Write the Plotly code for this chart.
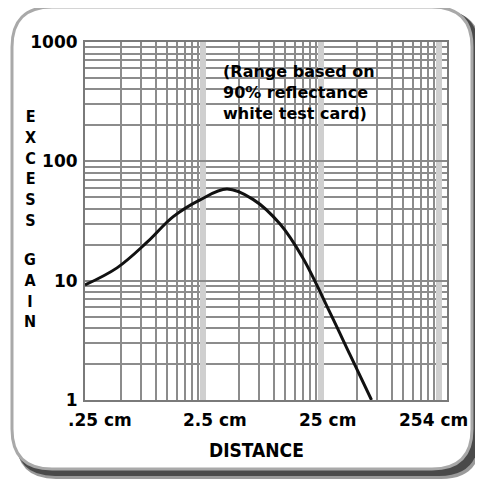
import numpy as np
import plotly.graph_objects as go

# ---- data ----
distance_cm = [0.25, 0.467, 0.84, 1.39, 2.36, 3.99, 6.63, 11.25, 17.6, 29.8, 44.0, 67.0]
excess_gain = [9.2, 12.8, 21.0, 34.2, 47.5, 58.5, 48.0, 29.8, 15.4, 5.4, 2.4, 1.0]

x_tick_vals = [0.25, 2.5, 25, 254]
x_tick_text = [".25 cm", "2.5 cm", "25 cm", "254 cm"]
y_tick_vals = [1, 10, 100, 1000]
y_tick_text = ["1", "10", "100", "1000"]
x_title = "DISTANCE"
y_title_top = "EXCESS"
y_title_bottom = "GAIN"
note_lines = ["(Range based on", "90% reflectance", "white test card)"]

# ---- layout geometry (page pixels; the page body adds an 8 px offset) ----
OFF = 8
WIDTH, HEIGHT = 483 - OFF, 486 - OFF
L, R, T, B = 85, 447, 42, 400          # plot area in page pixels
PW, PH = R - L, B - T

def to_paper(px, py):
    return (px - L) / PW, (B - py) / PH

def rounded_rect(x0, y0, x1, y1, r):
    pts = [
        ("M", [(x0 + r, y0)]),
        ("L", [(x1 - r, y0)]),
        ("Q", [(x1, y0), (x1, y0 + r)]),
        ("L", [(x1, y1 - r)]),
        ("Q", [(x1, y1), (x1 - r, y1)]),
        ("L", [(x0 + r, y1)]),
        ("Q", [(x0, y1), (x0, y1 - r)]),
        ("L", [(x0, y0 + r)]),
        ("Q", [(x0, y0), (x0 + r, y0)]),
    ]
    parts = []
    for cmd, ps in pts:
        coords = " ".join("%.5f,%.5f" % to_paper(*p) for p in ps)
        parts.append(cmd + " " + coords)
    return " ".join(parts) + " Z"

# grid positions (log paper: 1..9 per decade)
x_major = [0.25 * 10 ** d for d in range(4)]
x_minor = [0.25 * k * 10 ** d for d in range(3) for k in range(2, 10)]
y_minor = [k * 10 ** d for d in range(3) for k in range(2, 10)]

bold = "DejaVu Sans"
cond = "DejaVu Sans Condensed, DejaVu Sans"

fig = go.Figure()
fig.add_trace(go.Scatter(
    x=distance_cm, y=excess_gain, mode="lines",
    line=dict(color="#111111", width=3, shape="spline", smoothing=1.0),
    hoverinfo="x+y", showlegend=False,
))

shapes = [
    dict(type="path", xref="paper", yref="paper", layer="below",
         path=rounded_rect(16, 11, 481, 479, 40), fillcolor="#9a9a9a", line=dict(width=0)),
    dict(type="path", xref="paper", yref="paper", layer="below",
         path=rounded_rect(15, 10, 479, 476, 40), fillcolor="#4a4a4a", line=dict(width=0)),
    dict(type="path", xref="paper", yref="paper", layer="below",
         path=rounded_rect(12, 7, 472, 469, 40), fillcolor="white",
         line=dict(color="#a9a9a9", width=3)),
]

annotations = []
x_label_shift = [15, 12, 6, -6]
for v, t, s in zip(x_tick_vals, x_tick_text, x_label_shift):
    annotations.append(dict(
        x=np.log10(v), xref="x", y=-20 / PH, yref="paper", text=t, showarrow=False,
        xanchor="center", yanchor="middle", xshift=s,
        font=dict(family=bold, size=17, color="black", weight="bold")))

annotations.append(dict(
    x=(256 - L) / PW, y=(B - 450) / PH, xref="paper", yref="paper", text=x_title,
    showarrow=False, xanchor="center", yanchor="middle",
    font=dict(family=cond, size=19, color="black", weight="bold")))

for word, cy in [(y_title_top, 168), (y_title_bottom, 290)]:
    annotations.append(dict(
        x=(30 - L) / PW, y=(B - cy) / PH, xref="paper", yref="paper",
        text="<br>".join(word), showarrow=False, xanchor="center", yanchor="middle",
        align="center", font=dict(family=cond, size=16, color="black", weight="bold")))

annotations.append(dict(
    x=(221 - L) / PW, y=(B - 60) / PH, xref="paper", yref="paper",
    text="<br>".join(note_lines), showarrow=False, xanchor="left", yanchor="top",
    align="left", font=dict(family=bold, size=16, color="black", weight="bold")))

fig.update_layout(
    width=WIDTH, height=HEIGHT,
    margin=dict(l=L - OFF, r=WIDTH - (R - OFF), t=T - OFF, b=HEIGHT - (B - OFF), pad=0),
    paper_bgcolor="white", plot_bgcolor="rgba(0,0,0,0)",
    shapes=shapes, annotations=annotations,
    xaxis=dict(
        type="log", range=[np.log10(0.25), np.log10(0.25) + (R - L) / 118.0],
        tickmode="array", tickvals=x_major, showticklabels=False, ticks="",
        showgrid=True, gridcolor="#cfcfcf", gridwidth=6,
        minor=dict(tickmode="array", tickvals=x_minor, showgrid=True,
                   gridcolor="#8c8c8c", gridwidth=2, ticks=""),
        showline=True, linecolor="#7a7a7a", linewidth=2, mirror=True,
        zeroline=False, fixedrange=True,
    ),
    yaxis=dict(
        type="log", range=[0, 3],
        tickmode="array", tickvals=y_tick_vals, ticktext=y_tick_text, ticks="",
        ticklabelstandoff=2,
        tickfont=dict(family=bold, size=17, color="black", weight="bold"),
        showgrid=True, gridcolor="#8a8a8a", gridwidth=2,
        minor=dict(tickmode="array", tickvals=y_minor, showgrid=True,
                   gridcolor="#8c8c8c", gridwidth=2, ticks=""),
        showline=True, linecolor="#7a7a7a", linewidth=2, mirror=True,
        zeroline=False, fixedrange=True,
    ),
)

fig.write_html("out.html")
